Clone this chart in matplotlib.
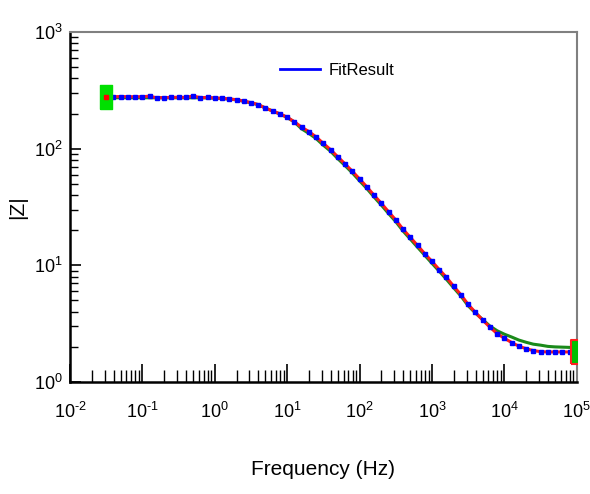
import numpy as np
import matplotlib
matplotlib.use("Agg")
import matplotlib.pyplot as plt
from matplotlib.lines import Line2D
from matplotlib.ticker import LogLocator, NullFormatter

plt.rcParams['font.family'] = ['Liberation Sans', 'DejaVu Sans']
plt.rcParams['mathtext.fontset'] = 'custom'
plt.rcParams['mathtext.rm'] = 'Liberation Sans'

# Frequenzen (Hz), 10 Punkte pro Dekade
freq = [0.0316, 0.0398, 0.0501, 0.0631, 0.0794,
        0.1, 0.126, 0.158, 0.2, 0.251, 0.316, 0.398, 0.501, 0.631, 0.794,
        1.0, 1.26, 1.58, 2.0, 2.51, 3.16, 3.98, 5.01, 6.31, 7.94,
        10.0, 12.6, 15.8, 20.0, 25.1, 31.6, 39.8, 50.1, 63.1, 79.4,
        100.0, 126.0, 158.0, 200.0, 251.0, 316.0, 398.0, 501.0, 631.0, 794.0,
        1000.0, 1260.0, 1580.0, 2000.0, 2510.0, 3160.0, 3980.0, 5010.0, 6310.0, 7940.0,
        10000.0, 12600.0, 15800.0, 20000.0, 25100.0, 31600.0, 39800.0, 50100.0, 63100.0, 79400.0,
        100000.0]

# Messdaten |Z| (Ohm)
z_mess = [279, 279, 280, 279, 279,
          279, 282, 273, 274, 275, 276, 275, 283, 274, 275,
          272, 270, 267, 263, 256, 248, 239, 223, 210, 199,
          186, 170, 153, 140, 126, 111, 98, 85, 74, 64,
          55, 47, 40, 34, 28.8, 24.5, 20.4, 17.4, 14.8, 12.6,
          10.8, 9.2, 7.9, 6.6, 5.6, 4.62, 3.95, 3.4, 2.95, 2.6,
          2.37, 2.18, 2.03, 1.93, 1.86, 1.82, 1.81, 1.81, 1.81, 1.81,
          1.81]

# Fit |Z| (Ohm)
z_fit = [273, 273, 273, 273, 273,
         273, 273, 273, 273, 273, 273, 273, 273, 273, 272,
         271, 269, 266, 262, 255, 247, 238, 223, 210, 198,
         185, 169, 148, 135, 122, 107, 95, 82, 71.5, 62,
         53, 45.5, 38.6, 32.8, 27.8, 23.7, 19.7, 16.8, 14.3, 12.2,
         10.4, 8.9, 7.6, 6.4, 5.45, 4.5, 3.9, 3.43, 3.02, 2.75,
         2.57, 2.43, 2.29, 2.19, 2.11, 2.07, 2.02, 2.0, 1.99, 1.98,
         1.97]

xt = [1e-2, 1e-1, 1, 1e1, 1e2, 1e3, 1e4, 1e5]
xl = [r'$\mathregular{10^{\text{-}2}}$', r'$\mathregular{10^{\text{-}1}}$', r'$\mathregular{10^{0}}$',
      r'$\mathregular{10^{1}}$', r'$\mathregular{10^{2}}$', r'$\mathregular{10^{3}}$',
      r'$\mathregular{10^{4}}$', r'$\mathregular{10^{5}}$']
yt = [1, 10, 100, 1000]
yl = [r'$\mathregular{10^{0}}$', r'$\mathregular{10^{1}}$', r'$\mathregular{10^{2}}$', r'$\mathregular{10^{3}}$']

fig = plt.figure(figsize=(5.9, 4.94), dpi=100)
ax = fig.add_axes([0.1186, 0.2267, 0.859, 0.7085])

ax.plot(freq, z_fit, color='#1a8a1a', lw=2.2, zorder=2)
ax.plot(freq, z_mess, color='#ff1a1a', lw=2.2, zorder=3)
ax.plot(freq, z_mess, ls='none', marker='s', ms=2.8, mfc='#0000ff', mec='#0000ff', zorder=4)

# Cursor-Marker am Anfang und Ende
rechteck = [(-1, -2), (1, -2), (1, 2), (-1, 2), (-1, -2)]
ax.plot(freq[0], z_mess[0], ls='none', marker=rechteck, ms=17, mfc='#00e000', mec='#00e000', zorder=5)
ax.plot(freq[0], z_mess[0], ls='none', marker='s', ms=3, mfc='#ff0000', mec='#ff0000', zorder=6)
ax.plot(freq[-1], z_mess[-1], ls='none', marker=rechteck, ms=17, mfc='#00c000', mec='#ff2020', mew=1.5, zorder=5)

ax.set_xscale('log')
ax.set_yscale('log')
ax.set_xlim(0.01, 1e5)
ax.set_ylim(1, 1000)

ax.xaxis.set_minor_locator(LogLocator(base=10, subs=np.arange(2, 10), numticks=20))
ax.yaxis.set_minor_locator(LogLocator(base=10, subs=np.arange(2, 10), numticks=20))
ax.xaxis.set_minor_formatter(NullFormatter())
ax.yaxis.set_minor_formatter(NullFormatter())

ax.set_xticks(xt)
ax.set_xticklabels(xl)
ax.set_yticks(yt)
ax.set_yticklabels(yl)

ax.tick_params(axis='x', which='major', direction='in', length=13, width=1.2, pad=14, labelsize=13)
ax.tick_params(axis='x', which='minor', direction='in', length=9, width=1.0)
ax.tick_params(axis='y', which='major', direction='in', length=8, width=1.2, pad=5, labelsize=13)
ax.tick_params(axis='y', which='minor', direction='in', length=6, width=1.0)

for s in ['left', 'bottom']:
    ax.spines[s].set_linewidth(1.8)
    ax.spines[s].set_color('black')
for s in ['top', 'right']:
    ax.spines[s].set_linewidth(1.5)
    ax.spines[s].set_color('#808080')

ax.set_xlabel('Frequency (Hz)', fontsize=15, labelpad=28)
ax.set_ylabel('|Z|', fontsize=15, labelpad=5)

griff = [Line2D([0], [0], color='#0000ff', lw=2)]
ax.legend(griff, ['FitResult'], loc='upper left', bbox_to_anchor=(0.385, 0.955),
          frameon=False, fontsize=12, handlelength=2.4, handletextpad=0.5)

fig.savefig('out.png', dpi=100)
